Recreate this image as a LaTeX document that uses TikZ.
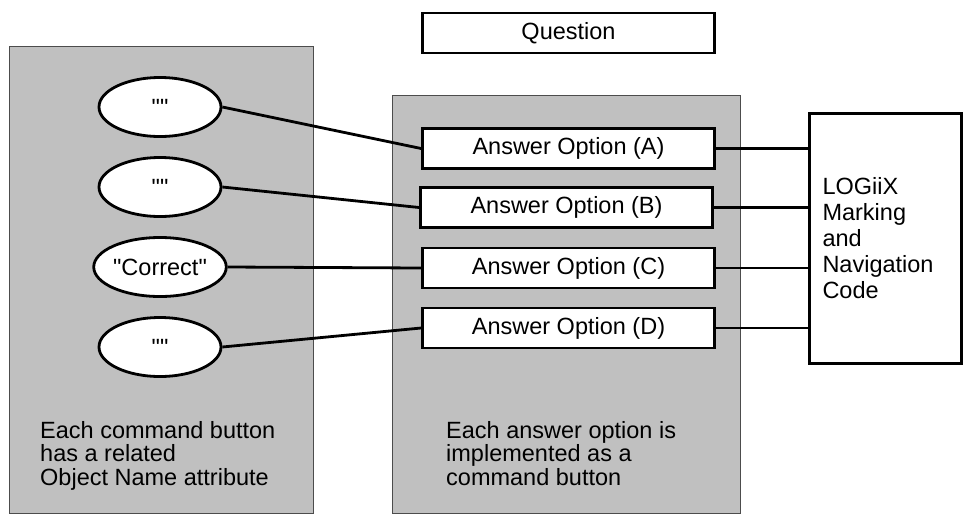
\documentclass[tikz,border=0pt]{standalone}
\usepackage{fontspec}
\setmainfont{Liberation Sans}[Ligatures=TeXOff]
\usepackage{xcolor}
\usetikzlibrary{shapes.geometric}
\definecolor{panelgray}{HTML}{C0C0C0}

\begin{document}
\begin{tikzpicture}[x=1pt,y=-1pt,
  panel/.style={fill=panelgray,draw=gray!60!black,line width=1pt},
  answer/.style={draw,fill=white,line width=2.8pt,minimum width=292pt,minimum height=40pt,inner sep=0pt,font=\fontsize{23.5}{24}\selectfont},
  attr/.style={ellipse,draw,fill=white,line width=2.8pt,minimum width=122pt,minimum height=59pt,inner sep=0pt,font=\fontsize{23.5}{24}\selectfont},
  note/.style={anchor=north west,inner sep=0pt,align=left,font=\fontsize{23.5}{23.5}\selectfont},
  link/.style={line width=2.8pt}]
  \useasboundingbox (0,0) rectangle (964,523);

  % Grey panels
  \draw[panel] (9,46) rectangle (313,513);
  \draw[panel] (392,95) rectangle (740,513);

  % Question and answer option buttons
  \node[answer] (question) at (568.5,33) {Question};
  \node[answer] (optA) at (568.5,148.5) {Answer Option (A)};
  \node[answer] (optB) at (566.5,207.5) {Answer Option (B)};
  \node[answer] (optC) at (568.5,268) {Answer Option (C)};
  \node[answer] (optD) at (568.5,328) {Answer Option (D)};

  % Object name attributes
  \node[attr] (nameA) at (160,107) {""};
  \node[attr] (nameB) at (160,187) {""};
  \node[attr] (nameC) at (160,267) {"Correct"};
  \node[attr] (nameD) at (160,347) {""};

  % Marking code box
  \node[draw,fill=white,line width=2.8pt,minimum height=250pt,text width=126pt,inner xsep=13pt,inner ysep=0pt,align=left,
        font=\fontsize{23.5}{26}\selectfont] (logic) at (885.5,238.5)
    {LOGiiX\\Marking\\and\\Navigation\\Code};

  % Panel notes
  \node[note] (leftnote) at (40,421) {Each command button\\has a related\\Object Name attribute};
  \node[note] (midnote) at (446,421) {Each answer option is\\implemented as a\\command button};

  % Connectors
  \draw[link] (nameA.east) -- (optA.west);
  \draw[link] (nameB.east) -- (optB.west);
  \draw[link] (nameC.east) -- (optC.west);
  \draw[link] (nameD.east) -- (optD.west);
  \draw[link] (optA.east) -- (optA.east -| logic.west);
  \draw[link] (optB.east) -- (optB.east -| logic.west);
  \draw[link] (optC.east) -- (optC.east -| logic.west);
  \draw[link] (optD.east) -- (optD.east -| logic.west);
\end{tikzpicture}
\end{document}
